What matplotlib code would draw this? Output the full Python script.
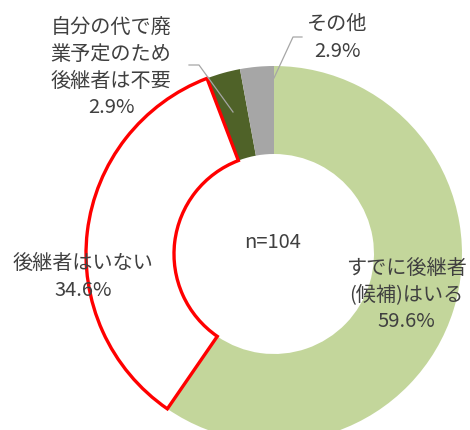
import matplotlib
matplotlib.use('Agg')
import matplotlib.pyplot as plt

plt.rcParams['font.family'] = ['Noto Sans CJK JP', 'DejaVu Sans']

# Data (clockwise from 12 o'clock)
categories = ['すでに後継者\n(候補)はいる', '後継者はいない',
              '自分の代で廃\n業予定のため\n後継者は不要', 'その他']
shares = [59.6, 34.6, 2.9, 2.9]
colors = ['#c3d69b', '#ffffff', '#4f6228', '#a6a6a6']
sample_label = 'n=104'

W, H = 470, 431
fig = plt.figure(figsize=(W / 100, H / 100), dpi=100)
ax = fig.add_axes([0, 0, 1, 1])

cx, cy = 274, H - 255
wedges, _ = ax.pie(shares, colors=colors, startangle=90, counterclock=False,
                   radius=188, center=(cx, cy), frame=True,
                   wedgeprops=dict(width=88, linewidth=0))
ax.set_xlim(0, W)
ax.set_ylim(0, H)
ax.set_aspect('equal')
ax.axis('off')

# highlight the "no successor" slice
wedges[1].set_edgecolor('#ff0000')
wedges[1].set_linewidth(2.4)
wedges[1].set_zorder(5)

txt = dict(color='#404040', fontsize=14.5, ha='center', va='center',
           linespacing=1.35, zorder=10)

ax.text(cx - 1, H - 243, sample_label, **txt)
ax.text(406, H - 295, f'{categories[0]}\n{shares[0]}%', **txt)
ax.text(83, H - 277, f'{categories[1]}\n{shares[1]}%', **txt)
ax.text(111, H - 68, f'{categories[2]}\n{shares[2]}%', **txt)
ax.text(337, H - 38, f'{categories[3]}\n{shares[3]}%', **txt)

# leader lines
ax.plot([233, 199, 189], [H - 113, H - 66, H - 66], color='#a6a6a6', lw=0.9, zorder=6)
ax.plot([274, 293, 302], [H - 79, H - 38, H - 38], color='#a6a6a6', lw=0.9, zorder=6)

fig.savefig('out.png', dpi=100)
